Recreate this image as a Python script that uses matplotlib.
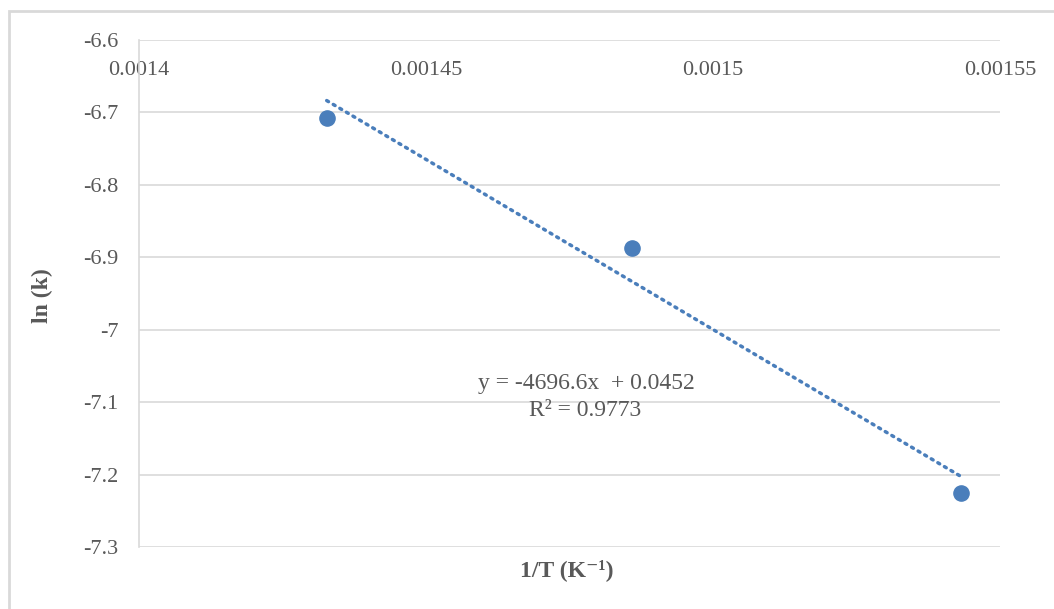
import numpy as np
import matplotlib.pyplot as plt
from matplotlib.patches import Rectangle
from matplotlib.ticker import FuncFormatter

plt.rcParams['font.family'] = ['Liberation Serif', 'DejaVu Serif']
plt.rcParams['axes.unicode_minus'] = False

# Arrhenius data: 1/T vs ln(k)
inv_T = [0.0014327, 0.0014859, 0.0015432]
ln_k = [-6.7077, -6.8870, -7.2254]

# linear trendline
slope = -4696.6
intercept = 0.0452
r2 = 0.9773

x_ticks = [0.0014, 0.00145, 0.0015, 0.00155]
y_ticks = [-7.3, -7.2, -7.1, -7.0, -6.9, -6.8, -6.7, -6.6]

blue = "#4a7ebb"
grey_txt = "#595959"
grid_c = "#d9d9d9"

fig = plt.figure(figsize=(10.54, 6.09), dpi=100)
ax = fig.add_axes([139/1054, 1 - 547/609, (1000 - 139)/1054, (547 - 40)/609])

# chart border
fig.patches.append(Rectangle((9/1054, -0.1), 1.2, 1 - 11/609 + 0.1,
                             transform=fig.transFigure, fill=False,
                             edgecolor=grid_c, lw=2))

ax.scatter(inv_T, ln_k, s=120, color=blue, zorder=3)

xt = np.array([inv_T[0], inv_T[-1]])
ax.plot(xt, slope*xt + intercept, color=blue, lw=2.5,
        linestyle=(0, (0.6, 1.6)), dash_capstyle='round', zorder=2)

ax.set_xlim(0.0014, 0.00155)
ax.set_ylim(-7.3, -6.6)
ax.set_xticks(x_ticks)
ax.set_yticks(y_ticks)
ax.xaxis.set_major_formatter(FuncFormatter(lambda v, p: "%g" % v))
ax.yaxis.set_major_formatter(FuncFormatter(lambda v, p: "%g" % v))

ax.xaxis.set_ticks_position('top')
ax.tick_params(axis='x', length=0, pad=-29, labelsize=16, labelcolor=grey_txt)
ax.tick_params(axis='y', length=0, pad=15, labelsize=16, labelcolor=grey_txt)

for s in ['top', 'right', 'bottom']:
    ax.spines[s].set_visible(False)
ax.spines['left'].set_color(grid_c)
ax.spines['left'].set_linewidth(1.2)

ax.grid(axis='y', color=grid_c, lw=1.2)
ax.set_axisbelow(True)

fig.text(42/1054, 1 - 296/609, "ln (k)", fontsize=17, fontweight='bold',
         color=grey_txt, rotation=90, ha='center', va='center')
fig.text(567/1054, 1 - 570/609, "1/T (K⁻¹)", fontsize=17,
         fontweight='bold', color=grey_txt, ha='center', va='center')

fig.text(586/1054, 1 - 383/609, "y = %.1fx  + %.4f" % (slope, intercept),
         fontsize=17, color=grey_txt, ha='center', va='center')
fig.text(585/1054, 1 - 410/609, "R² = %.4f" % r2,
         fontsize=17, color=grey_txt, ha='center', va='center')

fig.savefig("out.png", dpi=100)
